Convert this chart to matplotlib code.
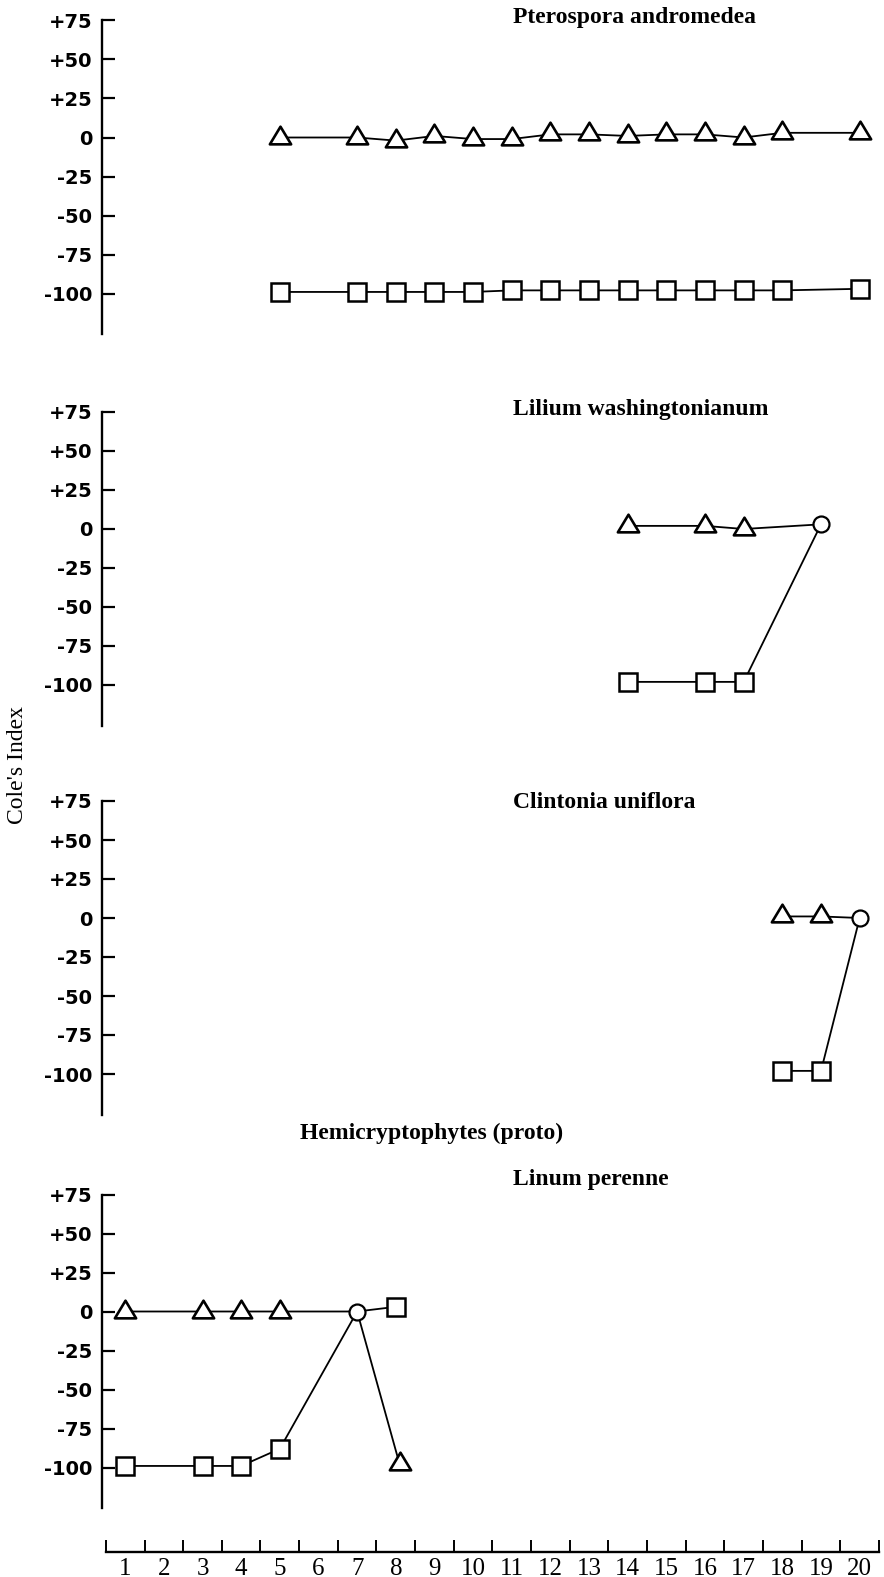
import numpy as np
import matplotlib
matplotlib.use("Agg")
import matplotlib.pyplot as plt
from matplotlib.path import Path

# Cole's index per year, triangles and squares for each species
pter_tri_x = [5, 7, 8, 9, 10, 11, 12, 13, 14, 15, 16, 17, 18, 20]
pter_tri_y = [0, 0, -2, 1, -1, -1, 2, 2, 1, 2, 2, 0, 3, 3]
pter_sq_x = [5, 7, 8, 9, 10, 11, 12, 13, 14, 15, 16, 17, 18, 20]
pter_sq_y = [-99, -99, -99, -99, -99, -98, -98, -98, -98, -98, -98, -98, -98, -97]

lil_tri_x = [14, 16, 17, 19]
lil_tri_y = [2, 2, 0, 3]
lil_sq_x = [14, 16, 17, 19]
lil_sq_y = [-98, -98, -98, 3]

cli_tri_x = [18, 19, 20]
cli_tri_y = [1, 1, 0]
cli_sq_x = [18, 19, 20]
cli_sq_y = [-98, -98, 0]

lin_tri_x = [1, 3, 4, 5, 7, 8.1]
lin_tri_y = [0, 0, 0, 0, 0, -98]
lin_sq_x = [1, 3, 4, 5, 7, 8]
lin_sq_y = [-99, -99, -99, -88, 0, 3]

species = ["Pterospora andromedea", "Lilium washingtonianum",
           "Clintonia uniflora", "Linum perenne"]
y_ticks = [75, 50, 25, 0, -25, -50, -75, -100]
y_ticklabels = ["+75", "+50", "+25", "0", "-25", "-50", "-75", "-100"]
years = list(range(1, 21))

panels = [
    (pter_tri_x, pter_tri_y, pter_sq_x, pter_sq_y),
    (lil_tri_x, lil_tri_y, lil_sq_x, lil_sq_y),
    (cli_tri_x, cli_tri_y, cli_sq_x, cli_sq_y),
    (lin_tri_x, lin_tri_y, lin_sq_x, lin_sq_y),
]

W, H = 884, 1577
fig = plt.figure(figsize=(W / 100, H / 100), dpi=100)
fig.patch.set_facecolor("white")

def fx(px):
    return px / W

def fy(px):
    return 1 - px / H

# triangle with its anchor a third of the way up from the base
tri_marker = Path([(-1, -0.55), (1, -0.55), (0, 1.11), (-1, -0.55)],
                  [Path.MOVETO, Path.LINETO, Path.LINETO, Path.CLOSEPOLY])

serif = "Liberation Serif"
sans = "DejaVu Sans"
XL = (0.4, 20.5)
YL = (-126, 75)
scale = 1.56
left, right = 102, 879
zeros = [137.5, 529, 918, 1311.5]
title_y = [17, 410, 803, 1180]

for (tx, ty, sx, sy), name, z, tyy in zip(panels, species, zeros, title_y):
    top = z - YL[1] * scale
    bot = z - YL[0] * scale
    ax = fig.add_axes([fx(left), fy(bot), fx(right - left), (bot - top) / H])
    ax.set_xlim(*XL)
    ax.set_ylim(*YL)
    ax.patch.set_alpha(0)
    for s in ["top", "right", "bottom"]:
        ax.spines[s].set_visible(False)
    ax.spines["left"].set_linewidth(1.7)
    ax.set_xticks([])
    ax.set_yticks(y_ticks)
    ax.set_yticklabels(y_ticklabels, fontfamily=sans, fontweight="bold", fontsize=14)
    ax.tick_params(axis="y", direction="in", length=9.5, width=1.6, pad=7)

    ax.plot(tx, ty, "-", color="black", lw=1.3, zorder=2)
    ax.plot(sx, sy, "-", color="black", lw=1.3, zorder=2)

    meet = set(zip(tx, ty)) & set(zip(sx, sy))
    t_pts = [(a, b) for a, b in zip(tx, ty) if (a, b) not in meet]
    s_pts = [(a, b) for a, b in zip(sx, sy) if (a, b) not in meet]
    if t_pts:
        a, b = zip(*t_pts)
        ax.plot(a, b, ls="none", marker=tri_marker, ms=17, mfc="white",
                mec="black", mew=1.9, zorder=3, clip_on=False)
    if s_pts:
        a, b = zip(*s_pts)
        ax.plot(a, b, ls="none", marker="s", ms=13, mfc="white",
                mec="black", mew=1.8, zorder=3, clip_on=False)
    if meet:
        a, b = zip(*sorted(meet))
        ax.plot(a, b, ls="none", marker="o", ms=11.5, mfc="white",
                mec="black", mew=1.6, zorder=3, clip_on=False)

    fig.text(fx(513), fy(tyy), name, fontfamily=serif, fontweight="bold",
             fontsize=17, ha="left", va="center")

fig.text(fx(300), fy(1133), "Hemicryptophytes (proto)", fontfamily=serif,
         fontweight="bold", fontsize=17, ha="left", va="center")
fig.text(fx(18), fy(765), "Cole's Index", fontfamily=serif, fontsize=17,
         rotation=90, ha="center", va="center")

# shared year axis along the bottom
axb = fig.add_axes([fx(left), fy(1552), fx(right - left), 20 / H])
axb.set_xlim(*XL)
axb.patch.set_alpha(0)
for s in ["top", "right", "left"]:
    axb.spines[s].set_visible(False)
axb.spines["bottom"].set_bounds(0.5, 20.5)
axb.spines["bottom"].set_linewidth(1.7)
axb.set_yticks([])
axb.set_xticks(np.arange(0.5, 21, 1.0))
axb.set_xticklabels([])
axb.set_xticks(years, minor=True)
axb.set_xticklabels([str(y) for y in years], minor=True, fontfamily=serif,
                    fontsize=18)
axb.tick_params(axis="x", which="major", direction="in", length=8.5, width=1.4)
axb.tick_params(axis="x", which="minor", length=0, pad=4)

fig.savefig("out.png", dpi=100, facecolor="white")
